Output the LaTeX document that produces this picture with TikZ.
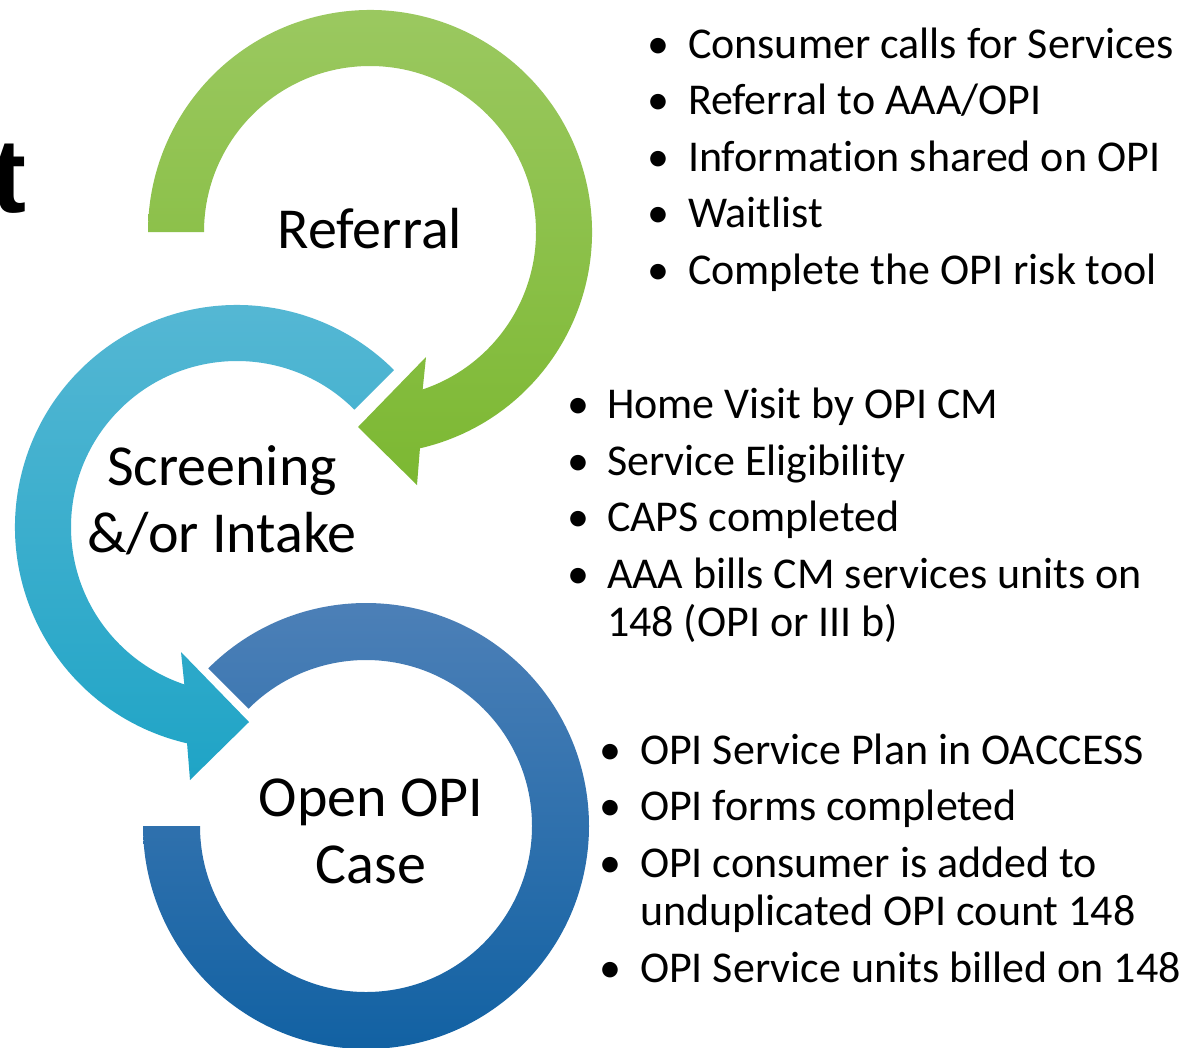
\documentclass[tikz,border=0pt]{standalone}
\usepackage{fontspec}
\setmainfont{Carlito}[Ligatures={NoCommon,NoContextual}]
\newfontfamily\tfont{Liberation Sans}
\usetikzlibrary{calc}
\definecolor{gTop}{HTML}{9CC962}
\definecolor{gBot}{HTML}{7CB832}
\definecolor{cTop}{HTML}{57B8D4}
\definecolor{cBot}{HTML}{1FA4C6}
\definecolor{bTop}{HTML}{4F81B8}
\definecolor{bBot}{HTML}{0F60A2}
\begin{document}
\begin{tikzpicture}[x=1pt,y=-1pt,
  every node/.style={inner sep=0pt, outer sep=0pt, text=black},
  biglabel/.style={font=\fontsize{58}{67}\selectfont, align=center, anchor=base},
  listitem/.style={font=\fontsize{44}{48}\selectfont, align=left, anchor=base west},
  bul/.style={font=\fontsize{44}{48}\selectfont, anchor=base},
]
\useasboundingbox (0,0) rectangle (1198,1047);
\clip (0,0) rectangle (1198,1047);
\fill[white] (0,0) rectangle (1198,1047);

% partial title letter
\node[font=\fontsize{105}{105}\selectfont\tfont\bfseries, anchor=base west] (tt) at (-8.6,212) {t};

% green circular arrow (Referral)
\coordinate (g) at (370,232);
\shade[top color=gTop, bottom color=gBot]
  ($(g)+(180:166)$) arc[start angle=180, end angle=431.5, radius=166]
  -- (426,357) -- (358,427) -- (417,485) -- ($(g)+(437:222)$)
  arc[start angle=437, end angle=180, radius=222] -- cycle;

% cyan circular arrow (Screening)
\coordinate (c) at (237,527);
\shade[top color=cTop, bottom color=cBot]
  ($(c)+(315:166)$) arc[start angle=315, end angle=108.5, radius=166]
  -- (181,652) -- (249,722) -- (190,780) -- ($(c)+(103:222)$)
  arc[start angle=103, end angle=315, radius=222] -- cycle;

% blue block arc (Open OPI Case)
\coordinate (b) at (366,826);
\shade[top color=bTop, bottom color=bBot]
  ($(b)+(225:223)$) arc[start angle=225, end angle=540, radius=223]
  -- ($(b)+(180:166)$) arc[start angle=540, end angle=225, radius=166] -- cycle;

% labels (multi-line nodes: base = last line)
\node[biglabel] (ref) at (370,248) {Referral};
\node[biglabel] (scr) at (222,552) {Screening\\\&/or Intake};
\node[biglabel] (opc) at (371,883) {Open OPI\\Case};

% list 1
\node[bul] (b11) at (658,58) {\textbullet};
\node[listitem] (l11) at (688,58) {Consumer calls for Services};
\node[bul] (b12) at (658,114.5) {\textbullet};
\node[listitem] (l12) at (688,114.5) {Referral to AAA/OPI};
\node[bul] (b13) at (658,171) {\textbullet};
\node[listitem] (l13) at (688,171) {Information shared on OPI};
\node[bul] (b14) at (658,227.5) {\textbullet};
\node[listitem] (l14) at (688,227.5) {Waitlist};
\node[bul] (b15) at (658,284) {\textbullet};
\node[listitem] (l15) at (688,284) {Complete the OPI risk tool};

% list 2
\node[bul] (b21) at (578,418.5) {\textbullet};
\node[listitem] (l21) at (607,418.5) {Home Visit by OPI CM};
\node[bul] (b22) at (578,475) {\textbullet};
\node[listitem] (l22) at (607,475) {Service Eligibility};
\node[bul] (b23) at (578,531.5) {\textbullet};
\node[listitem] (l23) at (607,531.5) {CAPS completed};
\node[bul] (b24) at (578,588) {\textbullet};
\node[listitem] (l24) at (607,636) {AAA bills CM services units on\\148 (OPI or III b)};

% list 3
\node[bul] (b31) at (610,764) {\textbullet};
\node[listitem] (l31) at (640,764) {OPI Service Plan in OACCESS};
\node[bul] (b32) at (610,820.5) {\textbullet};
\node[listitem] (l32) at (640,820.5) {OPI forms completed};
\node[bul] (b33) at (610,877) {\textbullet};
\node[listitem] (l33) at (640,925) {OPI consumer is added to\\unduplicated OPI count 148};
\node[bul] (b34) at (610,982) {\textbullet};
\node[listitem] (l34) at (640,982) {OPI Service units billed on 148};
\end{tikzpicture}
\end{document}
